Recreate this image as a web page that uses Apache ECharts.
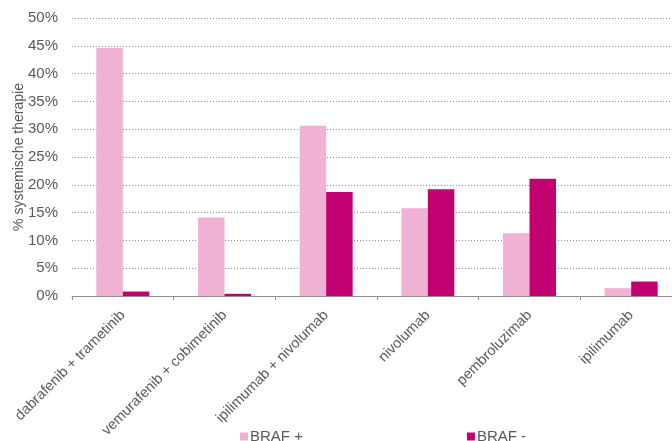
<!DOCTYPE html>
<html>
<head>
<meta charset="utf-8">
<script src="https://cdn.jsdelivr.net/npm/echarts@6/dist/echarts.min.js"></script>
<style>
  html, body { margin: 0; padding: 0; background: #fff; }
  #chart { width: 672px; height: 441px; }
</style>
</head>
<body>
<div id="chart"></div>
<script>
// Share of systemic therapy per treatment, by BRAF mutation status (%)
const therapies = [
  'dabrafenib + trametinib',
  'vemurafenib + cobimetinib',
  'ipilimumab + nivolumab',
  'nivolumab',
  'pembroluzimab',
  'ipilimumab'
];
const brafPositive = [44.6, 14.1, 30.6, 15.8, 11.3, 1.4];
const brafNegative = [0.8, 0.4, 18.7, 19.2, 21.1, 2.6];
const seriesNames = ['BRAF +', 'BRAF -'];
const yTicks = { min: 0, max: 50, step: 5 };

const textGrey = '#595959';
const font = 'Liberation Sans, Arial, sans-serif';

const chart = echarts.init(document.getElementById('chart'), null, { renderer: 'canvas' });
chart.setOption({
  animation: false,
  backgroundColor: '#ffffff',
  grid: {
    left: 72, top: 18, width: 610, height: 278,
    containLabel: false,
    outerBoundsMode: 'none'
  },
  legend: {
    data: seriesNames,
    left: 235,
    top: 424,
    icon: 'rect',
    itemWidth: 8,
    itemHeight: 8,
    itemGap: 164,
    itemStyle: { borderWidth: 0 },
    textStyle: { color: textGrey, fontSize: 15, fontFamily: font, padding: [0, 0, 0, -3] }
  },
  xAxis: {
    type: 'category',
    data: therapies,
    boundaryGap: true,
    axisLine: { lineStyle: { color: '#8c8c8c', width: 1 } },
    axisTick: { show: true, length: 4, lineStyle: { color: '#8c8c8c' } },
    axisLabel: {
      rotate: 45,
      interval: 0,
      margin: 17,
      color: textGrey,
      fontSize: 14.5,
      fontFamily: font
    },
    splitLine: { show: false }
  },
  yAxis: {
    type: 'value',
    min: yTicks.min,
    max: yTicks.max,
    interval: yTicks.step,
    name: '% systemische therapie',
    nameLocation: 'middle',
    nameGap: 46,
    nameMoveOverlap: false,
    nameTextStyle: { color: textGrey, fontSize: 14, fontFamily: font },
    axisLine: { show: false },
    axisTick: { show: false },
    axisLabel: {
      formatter: v => v + '%',
      color: textGrey,
      fontSize: 15,
      fontFamily: font,
      margin: 14
    },
    splitLine: { lineStyle: { color: '#8a8a8a', type: [1, 2], width: 1 } }
  },
  series: [
    {
      name: seriesNames[0],
      type: 'bar',
      data: brafPositive,
      barWidth: 26.5,
      barGap: '0%',
      itemStyle: { color: '#efb1d4' }
    },
    {
      name: seriesNames[1],
      type: 'bar',
      data: brafNegative,
      barWidth: 26.5,
      barGap: '0%',
      itemStyle: { color: '#c3006f' }
    }
  ]
});
</script>
</body>
</html>
